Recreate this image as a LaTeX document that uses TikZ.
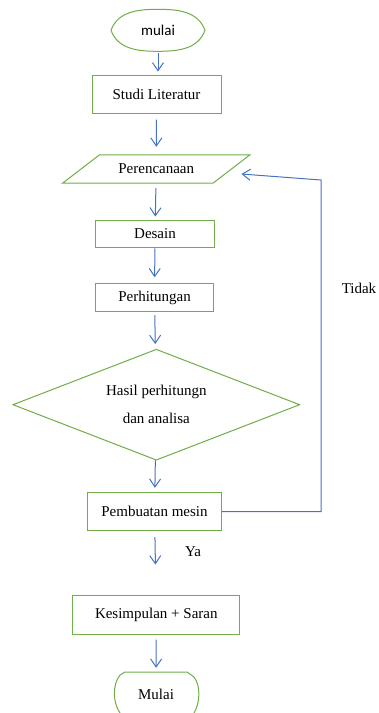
\documentclass[tikz,border=0pt]{standalone}
\usepackage{fontspec}
\setmainfont{Liberation Serif}
\newfontfamily\calibri{Carlito}
\usetikzlibrary{shapes.geometric,arrows.meta,calc}

\definecolor{hijau}{HTML}{70AD47}
\definecolor{biru}{HTML}{4472C4}

\tikzset{
  proses/.style={draw=hijau, line width=1pt, inner sep=0pt, font=\fontsize{15}{18}\selectfont},
  bentuk/.style={draw=hijau, line width=1pt},
  polos/.style={inner sep=0pt, font=\fontsize{15}{18}\selectfont},
  panah/.style={draw=biru, line width=1pt, -{Straight Barb[length=8pt,width=11pt]}},
}

\begin{document}
\begin{tikzpicture}[x=1pt,y=-1pt]
\useasboundingbox (0,0) rectangle (379,713);

% terminator atas
\node[polos, minimum width=94pt, minimum height=42pt, font=\calibri\fontsize{15}{18}\selectfont] (mulai) at (158,30.3) {mulai};
\draw[bentuk, shift={(mulai.center)}] (-47,0) .. controls (-40,-19) and (-20,-21) .. (0,-21)
  .. controls (20,-21) and (40,-19) .. (47,0) .. controls (40,19) and (20,21) .. (0,21)
  .. controls (-20,21) and (-40,19) .. cycle;

\node[proses, minimum width=129pt, minimum height=38pt] (studi) at (156.5,94) {Studi Literatur};

% input / output
\node[polos, minimum width=150pt, minimum height=28pt] (rencana) at (156.25,169) {Perencanaan};
\draw[bentuk] ([xshift=18.5pt]rencana.north west) -- ([xshift=18.5pt]rencana.north east)
  -- ([xshift=-18.5pt]rencana.south east) -- ([xshift=-18.5pt]rencana.south west) -- cycle;

\node[proses, minimum width=118.6pt, minimum height=27.7pt] (desain) at (155,233.9) {Desain};
\node[proses, minimum width=117.6pt, minimum height=28.4pt] (hitung) at (154.5,297.5) {Perhitungan};

% keputusan
\node[proses, shape=diamond, aspect=2.6, minimum width=287pt, minimum height=111pt, align=center,
  font=\fontsize{15}{28}\selectfont] (hasil) at (156.3,404.7) {Hasil perhitungn\\dan analisa};

\node[proses, minimum width=134.4pt, minimum height=38.4pt] (buat) at (154.5,511.5) {Pembuatan mesin};
\node[proses, minimum width=167.3pt, minimum height=39pt] (simpul) at (156.3,614.5) {Kesimpulan + Saran};

% terminator bawah
\node[polos, minimum width=86pt, minimum height=44pt] (selesai) at (156,694) {Mulai};
\draw[bentuk, shift={(selesai.center)}] (-36,19) .. controls (-43,9) and (-44,-9) .. (-36,-19) -- (-31,-22)
  -- (31,-22) -- (38,-17) .. controls (45,-8) and (44,9) .. (38,19);

% panah
\draw[panah, shorten <=1pt, shorten >=3pt] (mulai.south) -- (mulai.south |- studi.north);
\draw[panah, shorten <=6pt, shorten >=8pt] (studi) -- (rencana);
\draw[panah, shorten <=5pt, shorten >=3pt] (rencana) -- (desain);
\draw[panah, shorten >=5.5pt] (desain) -- (hitung);
\draw[panah, shorten <=3pt, shorten >=5pt] (hitung) -- (hasil);
\draw[panah, shorten >=4pt] (hasil) -- (buat);
\draw[panah, shorten <=6pt, shorten >=30pt] (buat) -- (simpul);
\draw[panah, shorten <=5pt, shorten >=4pt] (simpul) -- (selesai);

% kembali
\coordinate (belok) at (321,180);
\draw[panah] (buat.east) -- (buat.east -| belok) -- (belok) -- ([xshift=10pt,yshift=-5pt]rencana.east);

\node[polos] (tidak) at (359,288) {Tidak};
\node[polos] (ya) at (193,552) {Ya};
\end{tikzpicture}
\end{document}
